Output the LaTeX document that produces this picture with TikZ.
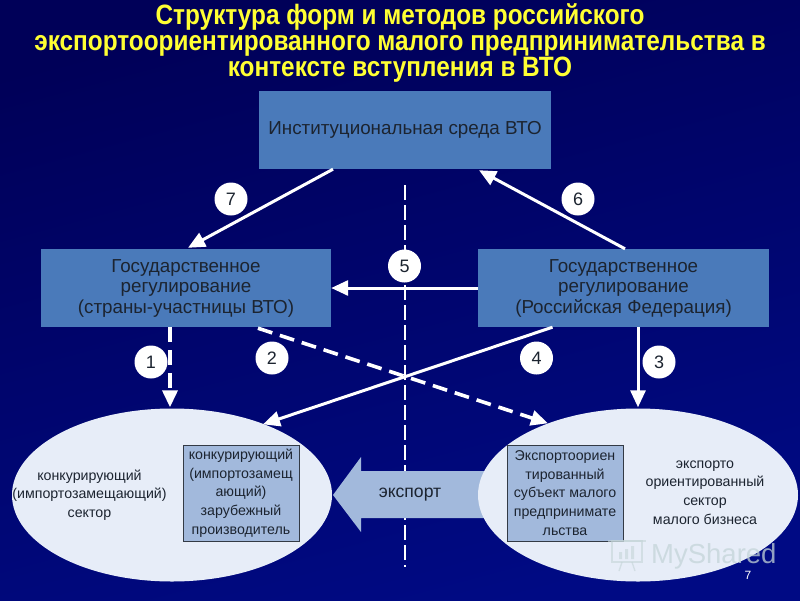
\documentclass[tikz,border=0pt]{standalone}
\usepackage{fontspec}
\setmainfont{Liberation Sans}
\newfontfamily\titlefont[FakeStretch=0.87]{Liberation Sans}
\usetikzlibrary{shapes.geometric,calc,arrows.meta}
\definecolor{bluebox}{HTML}{4A7ABA}
\definecolor{palebox}{HTML}{A2B9DC}
\definecolor{pale}{HTML}{E7EDF8}
\definecolor{ink}{HTML}{1C2430}
\definecolor{titley}{HTML}{FFFF33}
\definecolor{bgtop}{HTML}{000058}
\definecolor{bgmid}{HTML}{0A0A9C}
\definecolor{bgbot}{HTML}{000A84}
\definecolor{wmark}{HTML}{C4D4D8}
\tikzset{
 x=1pt,y=-1pt,
 bigbox/.style={draw=none,fill=bluebox,minimum width=291pt,minimum height=78pt,inner sep=0pt,align=center,text=ink,font=\fontsize{18.8}{20.5}\selectfont},
 smallbox/.style={draw=ink!90,line width=0.8pt,fill=palebox,minimum width=116pt,minimum height=96pt,inner sep=0pt,align=center,text=ink,font=\fontsize{14.2}{18.6}\selectfont},
 sector/.style={ellipse,draw=none,fill=pale,minimum width=320pt,minimum height=173pt,inner sep=0pt},
 sectortext/.style={align=center,text=ink,font=\fontsize{14.2}{18.6}\selectfont},
 num/.style={circle,fill=white,draw=none,minimum size=33pt,inner sep=0pt,text=ink,font=\fontsize{18}{20}\selectfont},
 solidline/.style={draw=white,line width=3pt,-{Triangle[length=17pt,width=15pt]}},
 dashline/.style={solidline,line width=3.6pt,dash pattern=on 15pt off 8pt},
 axisline/.style={draw=white,line width=1.5pt,dash pattern=on 15pt off 5pt},
}
\begin{document}
\begin{tikzpicture}
\useasboundingbox (0,0) rectangle (800,600);
\shade[top color=bgtop,middle color=bgmid,bottom color=bgbot,shading angle=15] (0,0) rectangle (800,600);
% title
\node[text=titley,font=\titlefont\bfseries\fontsize{28}{26}\selectfont,align=center] (title) at (400,43) {Структура форм и методов российского\\экспортоориентированного малого предпринимательства в\\контексте вступления в ВТО};
% axis
\coordinate (axtop) at (405,185);
\coordinate (axbot) at (405,567);
\draw[axisline] (axtop) -- (axbot);
% boxes
\node[bigbox,minimum width=292pt] (wto) at (405,130) {Институциональная среда ВТО};
\node[bigbox,minimum width=290pt] (gl) at (186,288) {Государственное\\регулирование\\(страны-участницы ВТО)};
\node[bigbox] (gr) at (623.5,288) {Государственное\\регулирование\\(Российская Федерация)};
% export arrow
\fill[palebox] (333,495) -- (361,457) -- (361,471) -- (500,471) -- (500,518) -- (361,518) -- (361,532) -- cycle;
% ellipses
\node[sector] (el) at (172,495) {};
\node[sector] (er) at (638,495) {};
\node[smallbox] (sl) at (241,493) {конкурирующий\\(импортозамещ\\ающий)\\зарубежный\\производитель};
\node[smallbox] (sr) at (565,493) {Экспортоориен\\тированный\\субъект малого\\предпринимате\\льства};
\node[sectortext] (tl) at (89.5,495) {конкурирующий\\(импортозамещающий)\\сектор};
\node[sectortext] (tr) at (705,492.5) {экспорто\\ориентированный\\сектор\\малого бизнеса};
\node[text=ink,font=\fontsize{17.6}{20}\selectfont] (ex) at (410,495) {экспорт};
% connectors
\draw[solidline] ($(wto.south)+(-72,0)$) -- ($(gl.north)+(2,-1)$);
\draw[solidline] ($(gr.north)+(1.5,0)$) -- ($(wto.south)+(74,1)$);
\draw[solidline] (gr.west) -- (gl.east);
\draw[dashline] ($(gl.south)+(-16,0)$) -- ($(el.north)+(-2,-1)$);
\draw[dashline] ($(gl.south)+(72,1)$) -- ($(er.north)+(-90,15)$);
\draw[solidline] ($(gr.south)+(-71,0)$) -- ($(el.north)+(91,16)$);
\draw[solidline] ($(gr.south)+(14.5,0)$) -- ($(er.north)+(0,-1)$);
% numbers
\node[num] (n7) at (231,199) {7};
\node[num] (n6) at (578,199) {6};
\node[num] (n5) at (404.5,266) {5};
\node[num] (n1) at (151,362) {1};
\node[num] (n2) at (272,358) {2};
\node[num] (n4) at (536.5,358) {4};
\node[num] (n3) at (659,362) {3};
% watermark and page number
\node[text=wmark,opacity=0.75,font=\fontsize{27.5}{28}\selectfont,anchor=west,inner sep=0pt] (wm) at (651,556) {MyShared};
\draw[wmark,opacity=0.6,line width=1.6pt] (612,541) rectangle (642,562);
\draw[wmark,opacity=0.6,line width=1.6pt] (608,541) -- (646,541);
\fill[wmark,opacity=0.6] (619,552) rectangle (622,559) (625,549) rectangle (628,559) (631,546) rectangle (634,559);
\draw[wmark,opacity=0.6,line width=1.4pt] (622,562) -- (619,571) (632,562) -- (635,571);
\node[text=white,font=\fontsize{12}{14}\selectfont] (pg) at (748,575) {7};
\end{tikzpicture}
\end{document}
